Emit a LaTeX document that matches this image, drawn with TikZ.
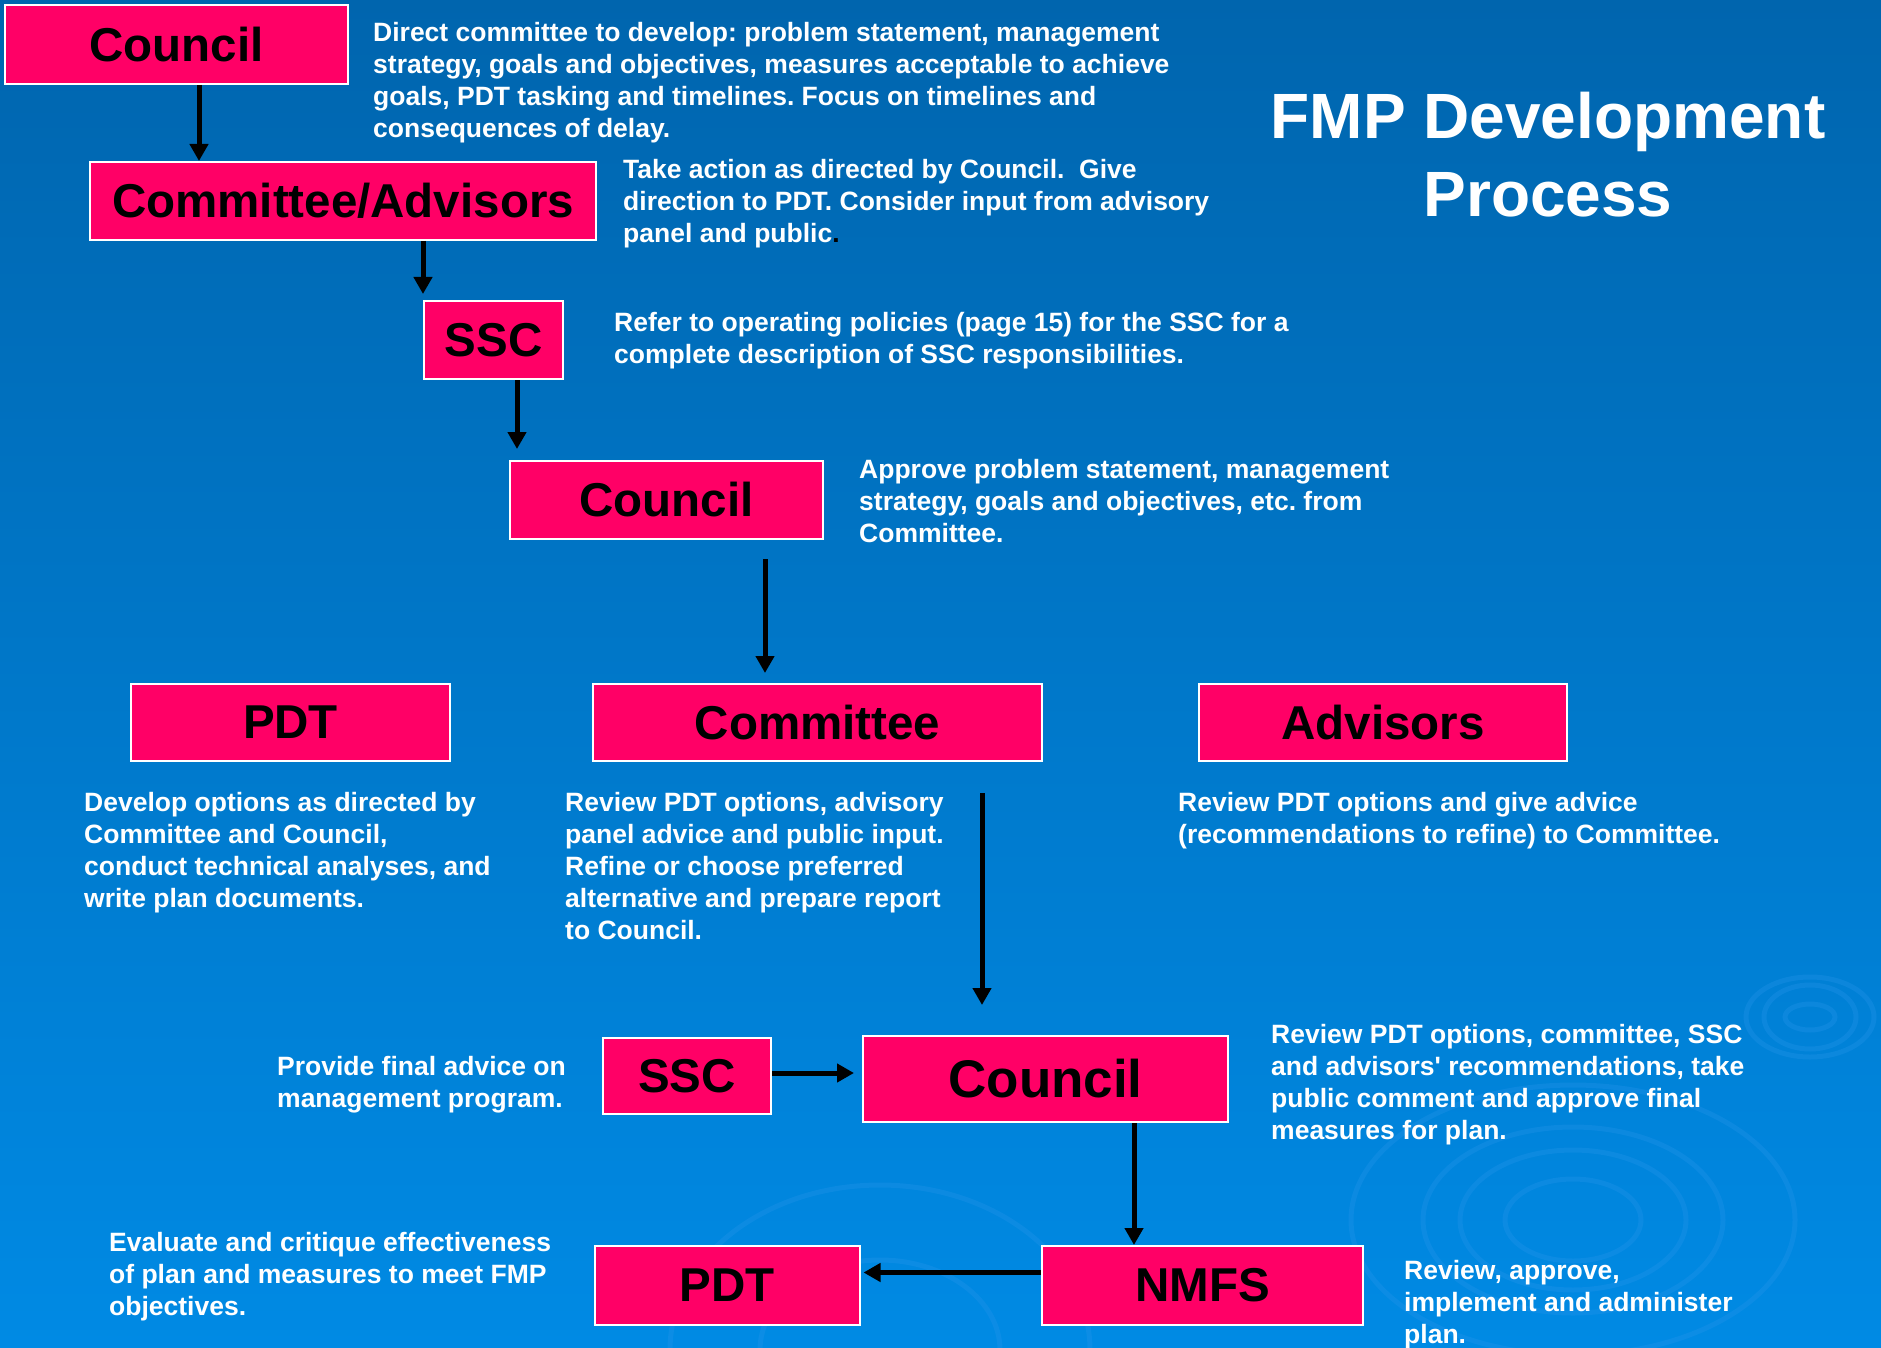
\documentclass[tikz,border=0pt]{standalone}
\usepackage{fontspec}
\setmainfont{Liberation Sans}
\usetikzlibrary{arrows.meta}
\definecolor{boxpink}{RGB}{255,0,102}
\definecolor{bgtop}{RGB}{0,101,174}
\definecolor{bgmid}{RGB}{0,112,192}
\definecolor{bgbot}{RGB}{0,138,228}
\definecolor{ripple}{RGB}{40,150,235}
\frenchspacing
\begin{document}
\begin{tikzpicture}[x=1pt,y=-1pt,
  box/.style={draw=white, line width=2pt, fill=boxpink, inner sep=0pt, text=black,
    font=\fontsize{47.5}{50}\selectfont\bfseries},
  desc/.style={anchor=north west, inner sep=0pt, align=left, text=white,
    font=\fontsize{26.5}{32}\selectfont\bfseries},
  arr/.style={line width=5pt, draw=black, -{Triangle[width=18pt,length=17pt]}},
  rip/.style={draw=ripple, opacity=0.3, line width=5pt}]
\useasboundingbox (0,0) rectangle (1881,1348);
\shade[top color=bgtop, middle color=bgmid, bottom color=bgbot] (0,0) rectangle (1881,1348);
% ripples
\begin{scope}
\clip (0,0) rectangle (1881,1348);
\draw[rip] (1573,1220) ellipse [x radius=68, y radius=41];
\draw[rip] (1573,1220) ellipse [x radius=113, y radius=70];
\draw[rip] (1573,1220) ellipse [x radius=150, y radius=93];
\draw[rip] (1573,1220) ellipse [x radius=222, y radius=135];
\draw[rip] (1810,1017) ellipse [x radius=25, y radius=13];
\draw[rip] (1810,1017) ellipse [x radius=46, y radius=32];
\draw[rip] (1810,1017) ellipse [x radius=64, y radius=40];
\draw[rip] (880,1350) ellipse [x radius=120, y radius=90];
\draw[rip] (880,1350) ellipse [x radius=210, y radius=165];
\end{scope}
% title
\node[anchor=north, align=center, inner sep=0pt, text=white,
  font=\fontsize{64}{78}\selectfont\bfseries] (title) at (1548,92) {FMP Development\\Process};
% boxes
\node[box, minimum width=343pt, minimum height=79pt] (c1) at (176.5,44.5) {Council};
\node[box, minimum width=506pt, minimum height=78pt] (ca) at (343,201) {Committee/Advisors};
\node[box, minimum width=139pt, minimum height=78pt] (ssc1) at (493.5,340) {SSC};
\node[box, minimum width=313pt, minimum height=78pt] (c2) at (666.5,500) {Council};
\node[box, minimum width=319pt, minimum height=77pt] (pdt1) at (290.5,722.5) {PDT};
\node[box, minimum width=449pt, minimum height=77pt] (com) at (817.5,722.5) {Committee};
\node[box, minimum width=368pt, minimum height=77pt] (adv) at (1383,722.5) {Advisors};
\node[box, minimum width=168pt, minimum height=76pt] (ssc2) at (687,1076) {SSC};
\node[box, minimum width=365pt, minimum height=86pt, font=\fontsize{53}{56}\selectfont\bfseries] (c3) at (1045.5,1079) {Council};
\node[box, minimum width=265pt, minimum height=79pt] (pdt2) at (727,1285.5) {PDT};
\node[box, minimum width=321pt, minimum height=79pt] (nmfs) at (1202.5,1285.5) {NMFS};
% descriptions
\node[desc] (t1) at (373,22) {Direct committee to develop: problem statement, management\\strategy, goals and objectives, measures acceptable to achieve\\goals, PDT tasking and timelines. Focus on timelines and\\consequences of delay.};
\node[desc] (t2) at (623,159) {Take action as directed by Council.\ \ Give\\direction to PDT. Consider input from advisory\\panel and public{\color{black}.}};
\node[desc] (t3) at (614,312) {Refer to operating policies (page 15) for the SSC for a\\complete description of SSC responsibilities.};
\node[desc] (t4) at (859,459) {Approve problem statement, management\\strategy, goals and objectives, etc. from\\Committee.};
\node[desc] (t5) at (84,792) {Develop options as directed by\\Committee and Council,\\conduct technical analyses, and\\write plan documents.};
\node[desc] (t6) at (565,792) {Review PDT options, advisory\\panel advice and public input.\\Refine or choose preferred\\alternative and prepare report\\to Council.};
\node[desc] (t7) at (1178,792) {Review PDT options and give advice\\(recommendations to refine) to Committee.};
\node[desc] (t8) at (277,1056) {Provide final advice on\\management program.};
\node[desc] (t9) at (1271,1024) {Review PDT options, committee, SSC\\and advisors\textquotesingle\ recommendations, take\\public comment and approve final\\measures for plan.};
\node[desc] (t10) at (109,1232) {Evaluate and critique effectiveness\\of plan and measures to meet FMP\\objectives.};
\node[desc] (t11) at (1404,1260) {Review, approve,\\implement and administer\\plan.};
% arrows
\draw[arr] ([xshift=22.5pt]c1.south) -- ([xshift=-144pt]ca.north);
\draw[arr, shorten >=6pt] ([xshift=80pt]ca.south) -- ([xshift=-70.5pt]ssc1.north);
\draw[arr, shorten >=11pt] ([xshift=23.5pt]ssc1.south) -- ([xshift=-149.5pt]c2.north);
\draw[arr, shorten <=19pt, shorten >=10pt] ([xshift=98.5pt]c2.south) -- ([xshift=-52.5pt]com.north);
\draw[arr, shorten <=31pt, shorten >=30pt] ([xshift=164.5pt]com.south) -- ([xshift=-63.5pt]c3.north);
\draw[arr, shorten >=8pt] ([yshift=3pt]ssc2.east) -- ([yshift=6pt]c3.west);
\draw[arr] ([xshift=88.5pt]c3.south) -- ([xshift=-68.5pt]nmfs.north);
\draw[arr, shorten >=3pt] ([yshift=13pt]nmfs.west) -- ([yshift=13pt]pdt2.east);
\end{tikzpicture}
\end{document}
